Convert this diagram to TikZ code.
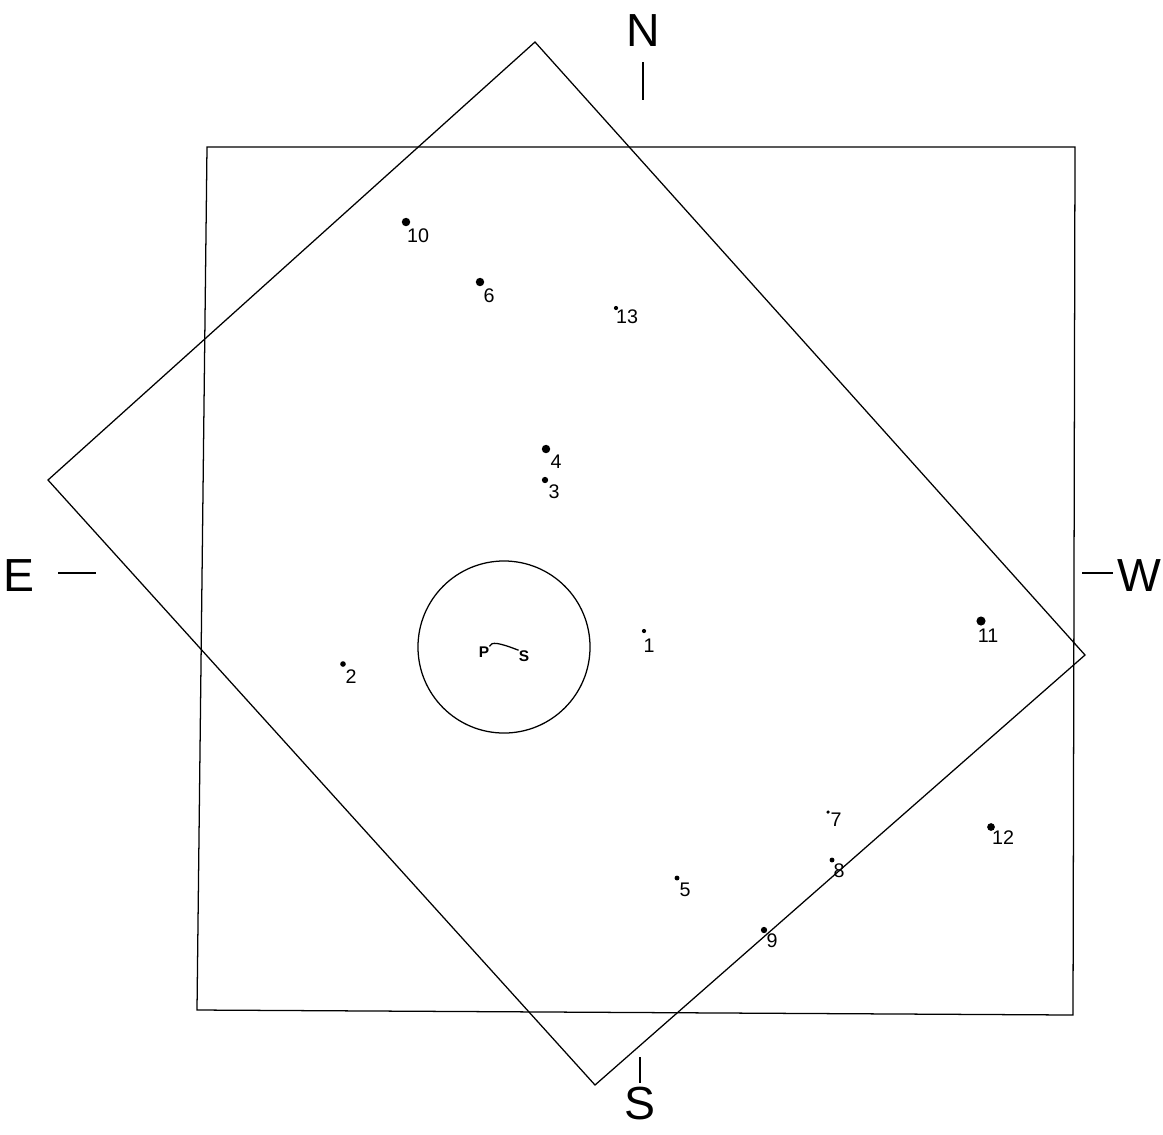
\documentclass[tikz,border=0pt]{standalone}
\usepackage{fontspec}
\setmainfont{Liberation Sans}
\begin{document}
\begin{tikzpicture}[x=0.025cm,y=-0.025cm,
  ln/.style={line width=0.9pt,black},
  star/.style={circle,fill=black,inner sep=0pt,minimum size=#1},
  star/.default=6pt,
  lab/.style={inner sep=0pt,font=\fontsize{14}{14}\selectfont},
  big/.style={inner sep=0pt,font=\fontsize{33}{33}\selectfont}]
\useasboundingbox (0,0) rectangle (1163,1134);
% square
\coordinate (q1) at (207,147);
\coordinate (q2) at (1075,147);
\coordinate (q3) at (1073,1015);
\coordinate (q4) at (197,1010);
\draw[ln] (q1) -- (q2) -- (q3) -- (q4) -- cycle;
% rotated square
\coordinate (r1) at (535,42);
\coordinate (r2) at (1085,655);
\coordinate (r3) at (595,1085);
\coordinate (r4) at (48,480);
\draw[ln] (r1) -- (r2) -- (r3) -- (r4) -- cycle;
% circle
\node[ln,draw,circle,minimum size=4.3cm,inner sep=0pt] (circ) at (504,647) {};
% compass
\node[big] (N) at (643,31) {N};
\node[big] (E) at (19,576) {E};
\node[big] (W) at (1139,576) {W};
\node[big] (Sc) at (640,1104) {S};
\coordinate (na) at (643,62); \coordinate (nb) at (643,100);
\coordinate (ea) at (58,573); \coordinate (eb) at (96,573);
\coordinate (wa) at (1082,573); \coordinate (wb) at (1113,573);
\coordinate (sa) at (640,1057); \coordinate (sb) at (640,1083);
\draw[ln] (na) -- (nb);
\draw[ln] (ea) -- (eb);
\draw[ln] (wa) -- (wb);
\draw[ln] (sa) -- (sb);
% P S
\node[lab,font=\fontsize{11}{11}\selectfont\bfseries] (P) at (484,652) {P};
\node[lab,font=\fontsize{11}{11}\selectfont\bfseries] (S) at (524,656) {S};
\draw[ln] (P.north east) .. controls (491,641) and (500,643) .. (S.north west);
% stars
\foreach \n/\dx/\dy/\lx/\ly/\s in {
  10/406/222/418/236/6pt,
  6/480/282/489/296/6pt,
  13/616/308/627/317/3pt,
  4/546/449/556/462/6pt,
  3/545/480/554/492/4.5pt,
  1/644/631/649/646/3pt,
  2/343/664/351/677/4pt,
  11/981/621/988/636/6.5pt,
  7/828/812/836/820/2.5pt,
  12/991/827/1003/838/5.5pt,
  8/832/860/839/871/3.5pt,
  5/677/878/685/890/3.5pt,
  9/764/930/772/941/4.5pt}{
  \node[star=\s] (d\n) at (\dx,\dy) {};
  \node[lab] (l\n) at (\lx,\ly) {\n};
}
\end{tikzpicture}
\end{document}
